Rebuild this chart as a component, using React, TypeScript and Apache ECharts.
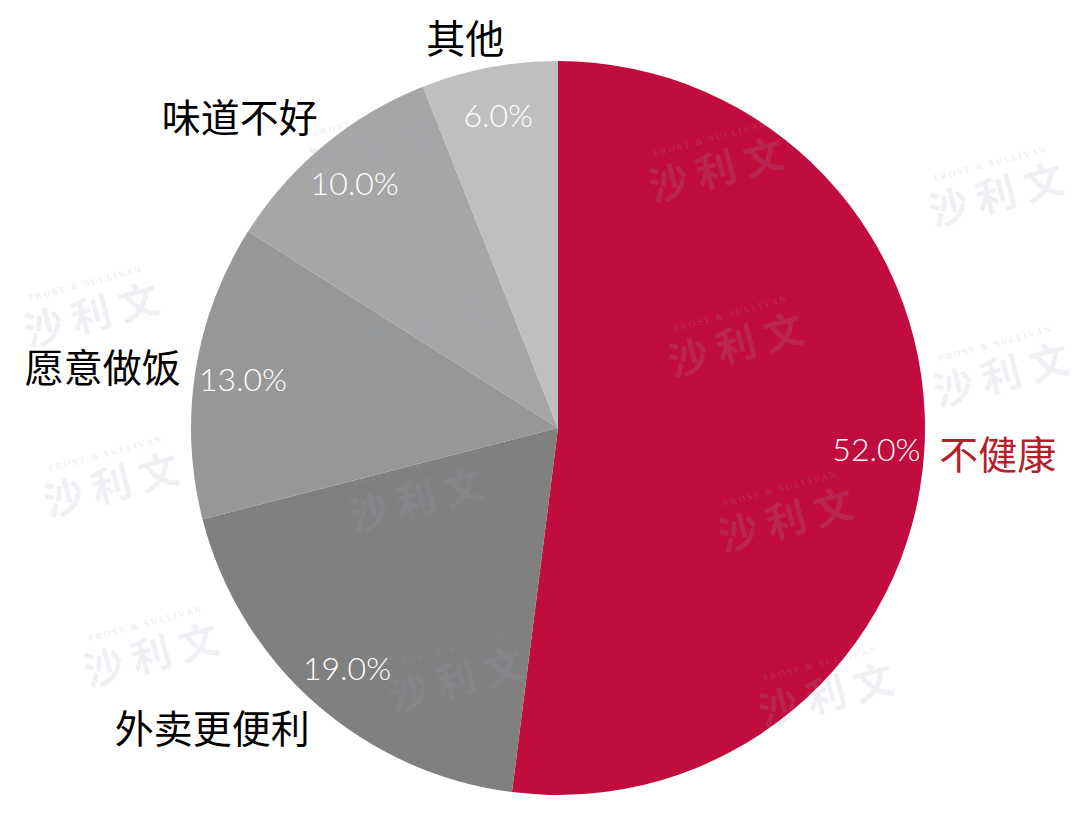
import React, { useEffect, useRef } from "react";
import * as echarts from "echarts";

const categories = ["不健康", "外卖更便利", "愿意做饭", "味道不好", "其他"];
const values = [52.0, 19.0, 13.0, 10.0, 6.0];
const colors = ["#C00D3D", "#808080", "#979797", "#A6A6A6", "#BFBFBF"];
const labelColors = ["#B31F2A", "#000000", "#000000", "#000000", "#000000"];
// small label nudges (style), matching the reference's label placement
const labelNudges: [number, number][] = [[0, 0], [6, 15], [0, -4], [5, -23], [22, -22]];

const watermarkSpots: [number, number][] = [
  [375, 150], [715, 170], [995, 195],
  [90, 315], [425, 325], [735, 345], [1000, 375],
  [110, 485], [415, 500], [785, 520],
  [150, 655], [455, 680], [825, 695],
];

function watermark(x: number, y: number) {
  return {
    type: "group",
    x,
    y,
    rotation: 0.26,
    silent: true,
    z: 100,
    children: [
      {
        type: "text",
        x: -55,
        y: -36,
        z: 100,
        style: {
          text: "F R O S T   &   S U L L I V A N",
          fontSize: 9,
          fontFamily: "Liberation Serif",
          fill: "rgba(150,165,185,0.25)",
        },
      },
      {
        type: "text",
        x: -68,
        y: -22,
        z: 100,
        style: {
          text: "沙 利 文",
          fontSize: 40,
          fontWeight: "bold",
          fontFamily: "Noto Sans CJK SC",
          fill: "rgba(150,165,185,0.16)",
        },
      },
    ],
  };
}

export default function App() {
  const ref = useRef<HTMLDivElement>(null);
  useEffect(() => {
    if (!ref.current) return;
    const chart = echarts.init(ref.current, undefined, { renderer: "svg" });
    const data = categories.map((name, i) => ({
      name,
      value: values[i],
      itemStyle: { color: colors[i] },
      label: { color: labelColors[i], offset: labelNudges[i] },
    }));
    chart.setOption({
      animation: false,
      backgroundColor: "#ffffff",
      series: [
        {
          type: "pie",
          center: [558, 428],
          radius: [0, 367],
          startAngle: 90,
          clockwise: true,
          silent: true,
          data,
          label: {
            show: true,
            position: "outside",
            formatter: "{b}",
            fontSize: 39,
            fontFamily: "Noto Sans CJK SC",
          },
          labelLine: { show: false, length: 10, length2: 0 },
          itemStyle: { borderWidth: 0 },
          emphasis: { disabled: true },
        },
        {
          type: "pie",
          center: [558, 428],
          radius: [265, 367],
          startAngle: 90,
          clockwise: true,
          silent: true,
          z: 3,
          data: categories.map((name, i) => ({ name, value: values[i] })),
          itemStyle: { color: "rgba(0,0,0,0)", borderWidth: 0 },
          label: {
            show: true,
            position: "inside",
            formatter: (p: any) => p.value.toFixed(1) + "%",
            color: "#ffffff",
            fontSize: 32,
            fontWeight: 300,
            fontFamily: "Lato",
          },
          labelLine: { show: false },
          emphasis: { disabled: true },
        },
      ],
      graphic: { elements: watermarkSpots.map(([x, y]) => watermark(x, y)) },
    });
    return () => chart.dispose();
  }, []);
  return (
    <div
      ref={ref}
      style={{ position: "fixed", left: 0, top: 0, width: 1080, height: 814 }}
    />
  );
}
